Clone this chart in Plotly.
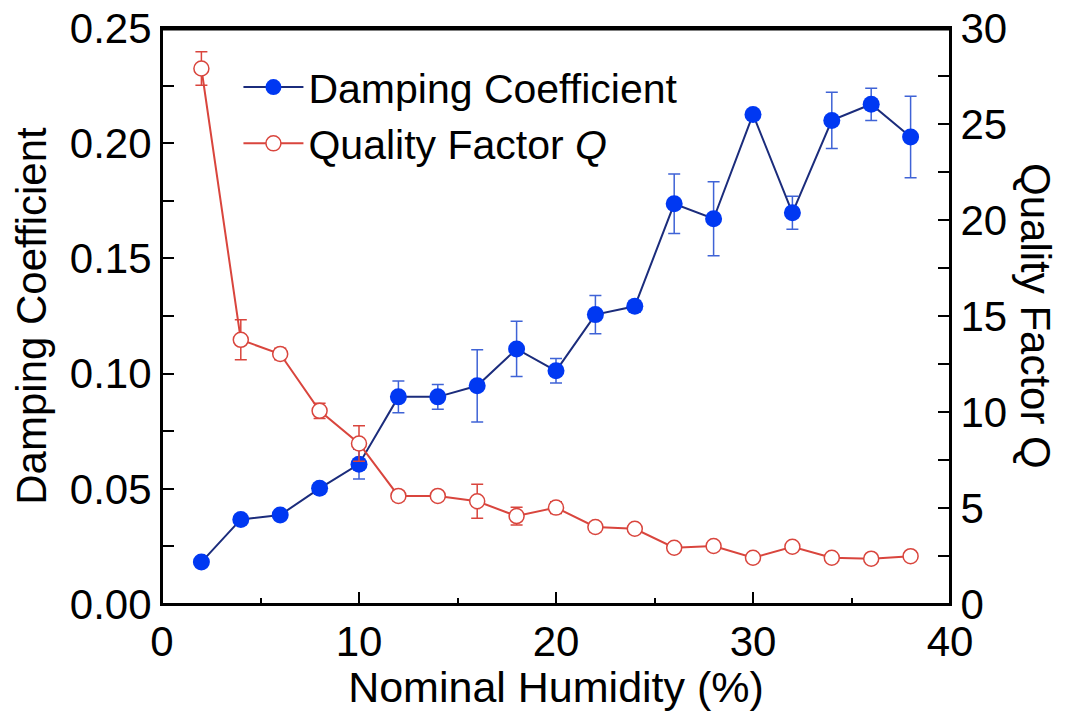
import plotly.graph_objects as go

humidity = [2, 4, 6, 8, 10, 12, 14, 16, 18, 20, 22, 24, 26, 28, 30, 32, 34, 36, 38]
damping = [0.0182, 0.0367, 0.0386, 0.0502, 0.0607, 0.0899, 0.0899, 0.0947, 0.1107, 0.1012,
           0.1256, 0.1292, 0.1737, 0.1672, 0.2125, 0.1698, 0.2099, 0.2169, 0.2027]
damping_err = [0.001, 0.002, 0.001, 0.001, 0.0065, 0.0069, 0.0054, 0.0157, 0.012, 0.0053,
               0.0083, 0.0025, 0.0129, 0.0161, 0.001, 0.0072, 0.0122, 0.007, 0.0177]
quality = [27.89, 13.76, 13.02, 10.06, 8.36, 5.63, 5.63, 5.35, 4.58, 5.02,
           4.01, 3.92, 2.93, 3.02, 2.41, 2.98, 2.41, 2.36, 2.49]
quality_err = [0.87, 1.04, 0.3, 0.4, 0.92, 0.25, 0.2, 0.89, 0.46, 0.3,
               0.25, 0.2, 0.2, 0.18, 0.2, 0.2, 0.2, 0.2, 0.2]
left_ticks = [0.0, 0.05, 0.10, 0.15, 0.20, 0.25]
right_ticks = [0, 5, 10, 15, 20, 25, 30]

FONT = "Liberation Sans, Arial, sans-serif"
RED = "#D9453D"
BLUE = "#0038F2"
NAVY = "#1B2C7C"
ERRBLUE = "#3F63D6"

# page body has an 8px margin on every side; keep the page inside the window
OFF = 8
W, H = 1066 - 2 * OFF, 719 - 2 * OFF
L, T = 162 - OFF, 28 - OFF
R, B = W - (950 - OFF), H - (604 - OFF)

fig = go.Figure()
fig.add_trace(go.Scatter(
    x=humidity, y=damping, name="Damping Coefficient", mode="lines+markers",
    line=dict(color=NAVY, width=2),
    marker=dict(color=BLUE, size=17, symbol="circle"),
    error_y=dict(type="data", array=damping_err, color=ERRBLUE, thickness=1.5, width=6),
    yaxis="y",
))
fig.add_trace(go.Scatter(
    x=humidity, y=quality, name="Quality Factor <i>Q</i>", mode="lines+markers",
    line=dict(color=RED, width=2),
    marker=dict(color="white", size=15, symbol="circle", line=dict(color=RED, width=1.5)),
    error_y=dict(type="data", array=quality_err, color=RED, thickness=1.5, width=6),
    yaxis="y2",
))

axis_common = dict(
    showline=True, linecolor="black", linewidth=2, showgrid=False, zeroline=False,
    ticks="inside", tickwidth=2, tickcolor="black", automargin=False,
    ticklabeloverflow="allow",
    tickfont=dict(family=FONT, size=42, color="black"),
)

fig.update_layout(
    width=W, height=H,
    margin=dict(l=L, r=R, t=T, b=B),
    paper_bgcolor="white", plot_bgcolor="white",
    font=dict(family=FONT, color="black"),
    showlegend=True,
    legend=dict(x=0.097, y=0.955, xanchor="left", yanchor="top",
                bgcolor="rgba(0,0,0,0)", font=dict(family=FONT, size=41, color="black"),
                itemwidth=60, tracegroupgap=0),
    xaxis=dict(
        range=[0, 40], dtick=10, tick0=0, mirror=True, ticklen=12,
        minor=dict(dtick=5, ticks="inside", ticklen=6, tickwidth=2, tickcolor="black"),
        title=dict(text="Nominal Humidity (%)", font=dict(family=FONT, size=43), standoff=10),
        **axis_common,
    ),
    yaxis=dict(
        range=[0, 0.25], tickmode="array", tickvals=left_ticks,
        ticktext=[f"{v:.2f}" for v in left_ticks], ticklen=12,
        minor=dict(dtick=0.025, tick0=0, ticks="inside", ticklen=12, tickwidth=2, tickcolor="black"),
        title=dict(text="Damping Coefficient", font=dict(family=FONT, size=42), standoff=12),
        **axis_common,
    ),
    yaxis2=dict(
        range=[0, 30], tickmode="array", tickvals=right_ticks, overlaying="y", side="right",
        ticklen=12,
        minor=dict(dtick=2.5, tick0=0, ticks="inside", ticklen=12, tickwidth=2, tickcolor="black"),
        **axis_common,
    ),
    shapes=[
        dict(type="rect", xref="paper", yref="paper", x0=0, x1=1, y0=0, y1=1,
             line=dict(color="black", width=2), fillcolor="rgba(0,0,0,0)", layer="above"),
        dict(type="line", xref="paper", yref="paper", x0=0, x1=1, y0=0.998, y1=0.998,
             line=dict(color="black", width=2.5), layer="above"),
    ],
    annotations=[dict(
        text="Quality Factor Q", textangle=90, x=(1036 - OFF - L) / (W - L - R), y=0.5,
        xref="paper", yref="paper", xanchor="center", yanchor="middle",
        showarrow=False, font=dict(family=FONT, size=42, color="black"),
    )],
)

fig.write_html("out.html")
